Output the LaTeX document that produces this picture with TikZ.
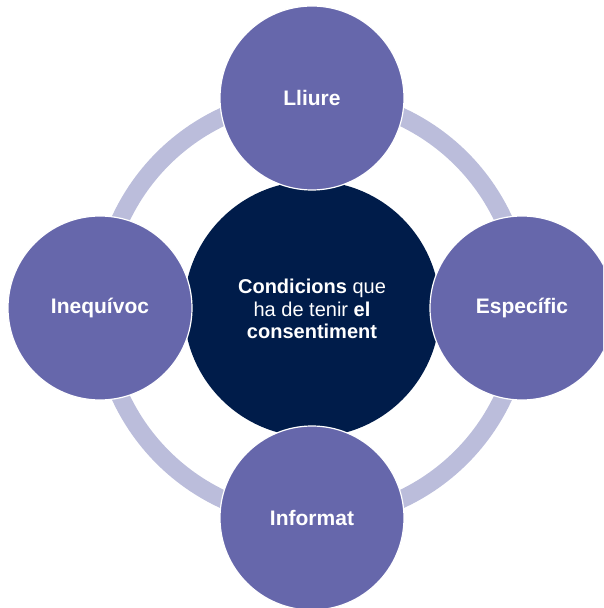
\documentclass[tikz,border=0pt]{standalone}
\usepackage{fontspec}
\setmainfont{Liberation Sans}
\usetikzlibrary{positioning}

\definecolor{ringlila}{HTML}{BBBDDB}
\definecolor{petalblau}{HTML}{6667AB}
\definecolor{nucli}{HTML}{001C4A}

\begin{document}
\begin{tikzpicture}[x=1pt, y=1pt,
    petal/.style = {circle, fill=petalblau, draw=white, line width=1.2pt,
                    minimum size=184pt, inner sep=0pt, text=white,
                    font=\bfseries\fontsize{21}{24}\selectfont},
    core/.style  = {circle, fill=nucli, minimum size=256pt, inner sep=0pt,
                    text=white, align=center,
                    font=\fontsize{20}{22.5}\selectfont}]
  \useasboundingbox (-312,-300) rectangle (291,308);
  \clip (-312,-300) rectangle (291,308);
  \draw[ringlila, line width=18pt] (0,0) circle (211pt);
  \node[core]  (centre)    at (0,-1)    {\textbf{Condicions} que\\ha de tenir \textbf{el}\\\textbf{consentiment}};
  \node[petal] (lliure)    at (90:210)  {Lliure};
  \node[petal] (especific) at (0:210)   {Específic};
  \node[petal] (informat)  at (270:210) {Informat};
  \node[petal] (inequivoc) at (180:212) {Inequívoc};
\end{tikzpicture}
\end{document}
